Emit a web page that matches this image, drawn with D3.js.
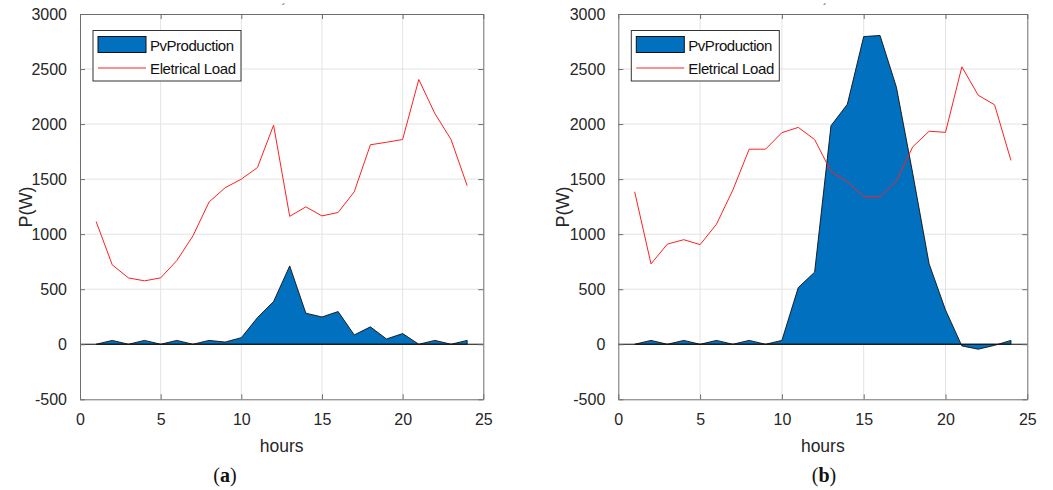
<!DOCTYPE html>
<html>
<head>
<meta charset="utf-8">
<script src="https://cdn.jsdelivr.net/npm/d3@7"></script>
<style>
  html, body { margin: 0; padding: 0; background: #fff; }
  svg { display: block; }
  text { font-family: "Liberation Sans", Arial, sans-serif; }
</style>
</head>
<body>
<svg id="chart" width="1053" height="490"></svg>
<script>
// ---- data ----
const hours = [1,2,3,4,5,6,7,8,9,10,11,12,13,14,15,16,17,18,19,20,21,22,23,24];

const pvA   = [0,35,0,35,0,35,0,35,20,60,242,388,712,282,248,297,85,158,48,97,0,35,0,35];
const loadA = [1115,721,603,576,603,760,984,1292,1422,1500,1605,1990,1162,1248,1166,1197,1385,1812,1835,1860,2405,2095,1860,1440];

const pvB   = [0,35,0,35,0,35,0,35,0,35,515,655,1985,2180,2795,2805,2335,1550,730,312,-15,-45,-10,35];
const loadB = [1385,730,910,950,905,1090,1400,1772,1772,1922,1970,1860,1570,1476,1340,1340,1482,1794,1935,1925,2520,2262,2175,1670];

const xTicks = [0,5,10,15,20,25];
const yTicks = [-500,0,500,1000,1500,2000,2500,3000];
const seriesNames = ["PvProduction", "Eletrical Load"];
const panelCaptions = ["a", "b"];
const xLabel = "hours";
const yLabel = "P(W)";

const svg = d3.select("#chart");

const panels = [
  { pv: pvA, load: loadA, x0: 80, x1: 483.3, cap: panelCaptions[0], capX: 225, ylabX: 25 },
  { pv: pvB, load: loadB, x0: 618.3, x1: 1027.3, cap: panelCaptions[1], capX: 824, ylabX: 562 }
];
const yTop = 14, yBot = 399.3;

panels.forEach(p => {
  const x = d3.scaleLinear().domain([0, 25]).range([p.x0, p.x1]);
  const y = d3.scaleLinear().domain([-500, 3000]).range([yBot, yTop]);
  const g = svg.append("g");

  // grid
  g.append("g").selectAll("line").data(xTicks.slice(1, -1)).join("line")
    .attr("x1", d => x(d)).attr("x2", d => x(d)).attr("y1", yTop).attr("y2", yBot)
    .attr("stroke", "#e3e3e3").attr("stroke-width", 1);
  g.append("g").selectAll("line").data(yTicks.slice(1, -1)).join("line")
    .attr("y1", d => y(d)).attr("y2", d => y(d)).attr("x1", p.x0).attr("x2", p.x1)
    .attr("stroke", "#e3e3e3").attr("stroke-width", 1);

  // area (pv)
  const area = d3.area().x((d, i) => x(hours[i])).y0(y(0)).y1(d => y(d));
  g.append("path").datum(p.pv).attr("d", area)
    .attr("fill", "#0070BF").attr("stroke", "#111").attr("stroke-width", 0.9)
    .attr("stroke-linejoin", "miter");

  // zero baseline
  g.append("line").attr("x1", p.x0).attr("x2", p.x1).attr("y1", y(0)).attr("y2", y(0))
    .attr("stroke", "#111").attr("stroke-width", 1);

  // load line
  const line = d3.line().x((d, i) => x(hours[i])).y(d => y(d));
  g.append("path").datum(p.load).attr("d", line)
    .attr("fill", "none").attr("stroke", "#ff2020").attr("stroke-width", 1);

  // axes
  const fmt = d => String(d);
  const axL = d3.axisLeft(y).tickValues(yTicks).tickFormat(fmt).tickSizeInner(-5).tickSizeOuter(0).tickPadding(13);
  const axR = d3.axisRight(y).tickValues(yTicks).tickSizeInner(-5).tickSizeOuter(0).tickFormat("");
  const axB = d3.axisBottom(x).tickValues(xTicks).tickFormat(fmt).tickSizeInner(-5).tickSizeOuter(0).tickPadding(14);
  const axT = d3.axisTop(x).tickValues(xTicks).tickSizeInner(-5).tickSizeOuter(0).tickFormat("");

  const styleAxis = sel => {
    sel.select(".domain").attr("stroke", "#6e6e6e");
    sel.selectAll(".tick line").attr("stroke", "#6e6e6e");
    sel.selectAll(".tick text").attr("fill", "#262626").style("font-size", "16px")
      .style("font-family", "'Liberation Sans', Arial, sans-serif");
  };
  g.append("g").attr("transform", `translate(${p.x0},0)`).call(axL).call(styleAxis);
  g.append("g").attr("transform", `translate(${p.x1},0)`).call(axR).call(styleAxis);
  g.append("g").attr("transform", `translate(0,${yBot})`).call(axB).call(styleAxis);
  g.append("g").attr("transform", `translate(0,${yTop})`).call(axT).call(styleAxis);

  // axis labels
  g.append("text").attr("x", (p.x0 + p.x1) / 2).attr("y", 452)
    .attr("text-anchor", "middle").attr("fill", "#262626").style("font-size", "17.5px").text(xLabel);
  g.append("text").attr("transform", `translate(${p.ylabX + 6.5},${207}) rotate(-90)`)
    .attr("text-anchor", "middle").attr("fill", "#262626").style("font-size", "18px").text(yLabel);

  // stray title mark
  g.append("text").attr("x", (p.x0 + p.x1) / 2 + 2).attr("y", 12)
    .attr("text-anchor", "middle").attr("fill", "#222").style("font-size", "11px").text("´");

  // legend
  const lx = p.x0 + 13, ly = 30.5;
  const lg = g.append("g");
  lg.append("rect").attr("x", lx).attr("y", ly).attr("width", 148).attr("height", 50.5)
    .attr("fill", "#fff").attr("stroke", "#333").attr("stroke-width", 1);
  lg.append("rect").attr("x", lx + 5).attr("y", ly + 6).attr("width", 48).attr("height", 16)
    .attr("fill", "#0070BF").attr("stroke", "#111").attr("stroke-width", 1);
  lg.append("text").attr("x", lx + 57).attr("y", ly + 20.5).attr("fill", "#111")
    .style("font-size", "15px").attr("textLength", 84).text(seriesNames[0]);
  lg.append("line").attr("x1", lx + 5).attr("x2", lx + 53).attr("y1", ly + 37.5).attr("y2", ly + 37.5)
    .attr("stroke", "#ff2020").attr("stroke-width", 1);
  lg.append("text").attr("x", lx + 57).attr("y", ly + 43).attr("fill", "#111")
    .style("font-size", "15px").attr("textLength", 86).text(seriesNames[1]);

  // caption
  const cap = g.append("text").attr("x", p.capX).attr("y", 482).attr("text-anchor", "middle")
    .style("font-family", "'Liberation Serif', 'Times New Roman', serif").style("font-size", "20px")
    .attr("fill", "#111");
  cap.append("tspan").text("(");
  cap.append("tspan").attr("font-weight", "bold").text(p.cap);
  cap.append("tspan").text(")");
});
</script>
</body>
</html>
